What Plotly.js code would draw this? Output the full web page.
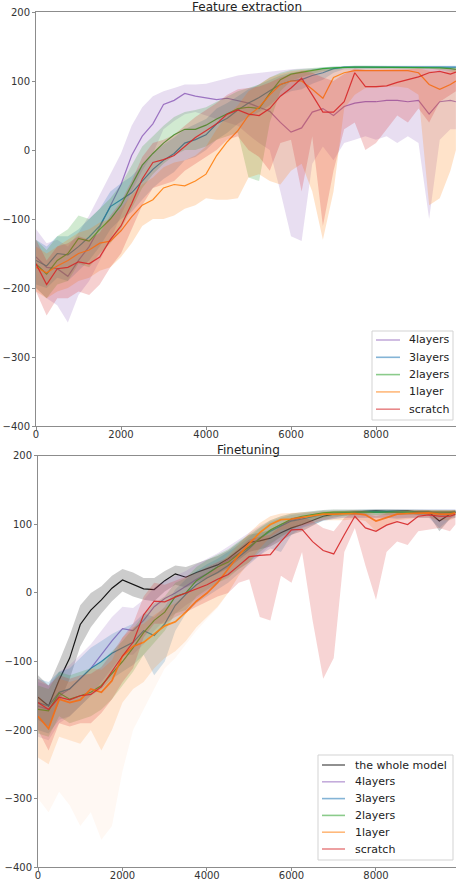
<!DOCTYPE html>
<html><head><meta charset="utf-8">
<script src="https://cdn.plot.ly/plotly-3.0.1.min.js"></script>
<style>html,body{margin:0;padding:0;background:#fff}#chart{width:456px;height:884px}</style>
</head><body><div id="chart"></div>
<script>
// training steps (x grid)
const steps = [0,250,500,750,1000,1250,1500,1750,2000,2250,2500,2750,3000,3250,3500,3750,4000,4250,4500,4750,5000,5250,5500,5750,6000,6250,6500,6750,7000,7250,7500,7750,8000,8250,8500,8750,9000,9250,9500,9750,9880];
const xTicks = [0,2000,4000,6000,8000];
const yTicks = [-400,-300,-200,-100,0,100,200];

// ---------- Feature extraction ----------
const fe4Mean  = [-155,-170,-172,-183,-160,-140,-112,-80,-50,-8,20,38,66,72,82,78,75,73,75,72,68,62,56,40,26,32,55,60,50,63,68,70,70,72,72,70,72,52,70,72,70];
const fe4Upper = [-115,-135,-130,-140,-120,-95,-65,-35,-5,35,62,78,85,90,95,95,96,100,104,108,110,112,113,115,117,118,118,118,118,118,118,119,119,119,119,119,119,118,118,118,118];
const fe4Lower = [-200,-215,-225,-250,-210,-190,-160,-130,-95,-60,-30,-5,30,42,52,55,50,45,40,35,22,10,0,-60,-125,-132,-20,5,-15,10,15,20,15,20,10,20,10,-100,15,30,30];

const fe3Mean  = [-160,-168,-150,-152,-140,-126,-110,-82,-72,-62,-45,-28,-15,-5,10,15,22,38,46,58,68,76,86,95,100,102,108,112,118,120,120,120,120,120,120,120,120,120,120,120,120];
const fe3Upper = [-130,-140,-125,-125,-115,-100,-85,-60,-48,-38,-22,-5,8,18,30,38,45,60,68,78,88,95,102,108,112,115,118,120,121,122,122,122,122,122,122,122,122,122,122,122,122];
const fe3Lower = [-195,-200,-185,-190,-175,-160,-140,-115,-100,-90,-72,-55,-42,-32,-15,-10,0,15,25,38,48,55,65,78,85,88,96,102,112,117,118,118,118,118,118,118,118,118,118,118,118];

const fe2Mean  = [-165,-180,-160,-150,-128,-132,-115,-100,-80,-50,-22,-5,10,22,30,30,36,45,52,60,62,60,82,102,110,113,116,118,119,120,120,120,120,120,120,120,120,120,119,118,117];
const fe2Upper = [-130,-145,-125,-115,-95,-100,-85,-70,-50,-22,5,20,35,48,55,58,62,70,78,85,90,95,105,112,116,118,119,120,121,122,122,122,122,122,122,122,122,122,121,120,120];
const fe2Lower = [-200,-215,-195,-190,-165,-170,-150,-135,-115,-85,-55,-35,-20,-8,0,0,5,15,20,25,-40,-45,40,85,100,106,110,114,116,118,118,118,118,118,118,118,118,118,116,114,113];

const fe1Mean  = [-170,-178,-168,-160,-150,-145,-135,-132,-117,-97,-80,-72,-55,-50,-52,-45,-35,-8,12,28,50,62,80,95,100,100,88,75,105,112,115,115,115,115,115,115,112,95,88,95,100];
const fe1Upper = [-140,-150,-140,-130,-120,-115,-105,-100,-85,-65,-50,-40,-25,-18,-15,-8,5,30,50,65,85,95,105,110,114,116,116,116,117,118,118,118,118,118,118,118,118,115,112,115,116];
const fe1Lower = [-205,-215,-205,-200,-190,-185,-175,-170,-155,-135,-110,-100,-100,-95,-85,-80,-70,-72,-72,-70,-40,-35,-45,-50,-30,-20,-60,-130,-60,60,80,90,90,92,92,90,80,-80,-70,-30,0];

const fesMean  = [-165,-195,-172,-170,-162,-165,-155,-130,-110,-78,-42,-18,-14,-8,5,18,28,38,52,58,52,50,60,78,90,104,80,55,55,70,112,92,92,93,98,102,106,112,114,110,113];
const fesUpper = [-130,-160,-140,-135,-125,-130,-120,-95,-75,-45,-10,10,15,22,35,48,58,68,80,88,90,92,98,105,110,114,112,105,100,110,118,116,116,116,117,117,118,118,118,118,118];
const fesLower = [-205,-240,-215,-215,-205,-210,-195,-170,-150,-115,-80,-55,-50,-45,-30,-20,-10,0,15,20,0,-10,-30,10,15,-60,20,-110,-30,30,40,0,10,30,50,40,60,40,70,80,85];

// ---------- Finetuning ----------
const ft0Mean  = [-152,-165,-127,-95,-46,-25,-10,7,19,12,6,5,18,28,23,30,36,41,50,62,74,76,80,88,95,100,106,112,115,117,118,119,120,119,120,120,118,118,105,115,118];
const ft0Upper = [-120,-135,-100,-62,-18,0,10,25,35,30,22,22,32,40,38,43,48,54,62,74,85,88,92,98,104,108,113,117,119,120,121,122,122,122,122,122,121,121,115,119,121];
const ft0Lower = [-185,-195,-160,-125,-78,-50,-30,-12,2,-5,-10,-12,2,12,8,15,22,28,36,48,60,64,68,76,85,90,98,106,110,113,115,116,117,116,117,117,114,114,90,108,114];

const ft4Mean  = [-165,-170,-150,-140,-125,-110,-90,-70,-52,-55,-40,-20,-8,0,10,20,28,38,48,58,68,80,92,100,106,110,114,116,117,118,118,118,118,118,118,118,118,118,118,118,118];
const ft4Upper = [-130,-135,-115,-105,-90,-75,-55,-35,-20,-22,-10,8,18,25,32,42,50,58,68,78,88,98,106,112,116,118,120,121,122,122,122,122,122,122,122,122,122,122,122,122,122];
const ft4Lower = [-210,-215,-190,-180,-165,-150,-130,-110,-90,-90,-75,-55,-40,-30,-18,-8,2,15,25,35,45,55,70,82,90,96,102,106,108,110,110,110,110,110,110,110,110,110,110,110,110];

const ft3Mean  = [-160,-165,-145,-140,-125,-110,-100,-88,-80,-72,-55,-62,-45,-18,-2,12,22,30,40,52,65,80,90,98,105,108,112,115,116,117,118,118,118,118,118,118,118,118,116,118,118];
const ft3Upper = [-125,-130,-115,-110,-95,-80,-70,-60,-52,-45,-30,-35,-20,5,20,32,42,50,60,70,82,95,104,110,114,116,118,120,120,121,122,122,122,122,122,122,122,122,121,122,122];
const ft3Lower = [-200,-205,-185,-180,-165,-150,-140,-125,-115,-105,-90,-120,-100,-55,-30,-15,-5,5,15,28,42,55,65,60,85,95,100,105,108,110,110,110,110,110,108,110,110,110,95,108,110];

const ft2Mean  = [-170,-172,-146,-155,-150,-145,-135,-117,-100,-80,-58,-40,-28,-5,0,18,28,38,45,57,67,80,92,100,108,112,115,117,118,118,119,119,119,119,119,119,119,119,119,118,118];
const ft2Upper = [-135,-140,-115,-120,-115,-110,-100,-85,-70,-52,-32,-15,-5,15,22,38,48,56,64,75,85,96,106,112,116,118,120,121,122,122,122,122,122,122,122,122,122,122,122,121,121];
const ft2Lower = [-205,-210,-180,-190,-185,-180,-170,-155,-135,-115,-90,-72,-55,-30,-25,-5,5,15,22,35,45,60,72,82,92,100,106,110,112,112,114,114,114,114,114,114,114,114,112,112,112];

const ft1Mean  = [-180,-198,-155,-160,-156,-140,-145,-128,-92,-78,-72,-60,-48,-42,-28,-12,0,15,35,55,72,88,100,107,108,110,113,115,115,115,116,114,105,110,115,116,117,117,115,115,117];
const ft1Upper = [-150,-165,-125,-130,-125,-110,-112,-98,-65,-50,-45,-32,-22,-15,-2,12,25,38,55,72,88,102,112,116,117,118,119,120,120,120,121,120,116,118,120,121,121,121,120,120,121];
const ft1Lower = [-240,-250,-210,-215,-220,-200,-230,-200,-160,-140,-130,-110,-95,-85,-70,-50,-35,-20,0,25,45,65,82,92,95,98,102,106,106,106,108,105,90,98,106,108,110,110,106,106,110];
const ft1Spikes = [-300,-320,-290,-310,-340,-320,-360,-340,-260,-200,-170,-140,-110,-95,-75,-55,-38,-22,0,25,45,65,82,92,95,98,102,106,106,106,108,105,90,98,106,108,110,110,106,106,110];

const ftsMean  = [-160,-170,-152,-156,-150,-148,-137,-115,-92,-72,-32,-12,-13,-6,0,5,12,20,27,40,53,55,56,75,92,93,75,62,57,85,112,95,90,99,104,100,112,114,112,112,115];
const ftsUpper = [-125,-135,-120,-125,-120,-118,-108,-88,-65,-45,-5,15,12,18,25,30,38,45,52,65,78,82,85,98,110,112,105,95,90,110,118,116,112,116,118,116,120,120,120,120,120];
const ftsLower = [-200,-230,-190,-195,-190,-190,-175,-155,-130,-110,-65,-45,-45,-35,-28,-20,-12,-5,0,15,20,-35,-40,25,15,60,-40,-125,-95,60,95,40,-10,60,75,70,90,92,95,90,100];

const COL = {
  purple:[148,103,189], blue:[31,119,180], green:[44,160,44],
  orange:[255,127,14], red:[214,39,40], black:[0,0,0]
};
const rgba = (c,a) => `rgba(${c[0]},${c[1]},${c[2]},${a})`;

const traces = [];
function band(lower, upper, col, a, xa, ya){
  traces.push({
    x: steps.concat(steps.slice().reverse()),
    y: upper.concat(lower.slice().reverse()),
    xaxis: xa, yaxis: ya, mode:'lines', line:{width:0},
    fill:'toself', fillcolor: rgba(col,a), hoverinfo:'skip', showlegend:false
  });
}
function line(mean, col, name, xa, ya, w){
  traces.push({
    x: steps, y: mean, xaxis: xa, yaxis: ya, mode:'lines', name: name,
    line:{color: rgba(col,0.9), width: w || 1.2}, showlegend:false
  });
}

const topSeries = [
  ['4layers', fe4Mean, fe4Lower, fe4Upper, COL.purple, 1.2],
  ['3layers', fe3Mean, fe3Lower, fe3Upper, COL.blue, 1.2],
  ['2layers', fe2Mean, fe2Lower, fe2Upper, COL.green, 1.2],
  ['1layer',  fe1Mean, fe1Lower, fe1Upper, COL.orange, 1.2],
  ['scratch', fesMean, fesLower, fesUpper, COL.red, 1.2]
];
topSeries.forEach(s => { band(s[2], s[3], s[4], 0.22, 'x', 'y'); line(s[1], s[4], s[0], 'x', 'y', s[5]); });

band(ft1Spikes, ft1Lower, COL.orange, 0.05, 'x2', 'y2');
const botSeries = [
  ['the whole model', ft0Mean, ft0Lower, ft0Upper, COL.black, 1.2],
  ['4layers', ft4Mean, ft4Lower, ft4Upper, COL.purple, 1.2],
  ['3layers', ft3Mean, ft3Lower, ft3Upper, COL.blue, 1.2],
  ['2layers', ft2Mean, ft2Lower, ft2Upper, COL.green, 1.2],
  ['1layer',  ft1Mean, ft1Lower, ft1Upper, COL.orange, 1.7],
  ['scratch', ftsMean, ftsLower, ftsUpper, COL.red, 1.2]
];
botSeries.forEach(s => { band(s[2], s[3], s[4], 0.2, 'x2', 'y2'); line(s[1], s[4], s[0], 'x2', 'y2', s[5]); });

const FONT = 'DejaVu Sans, sans-serif';

// ---- hand-built legends (matplotlib style), pixel -> paper helpers ----
const W = 456, H = 884, ML = 36;
const px = p => (p - ML) / (W - ML);
const py = p => 1 - p / H;
const shapes = [], annotations = [];
function legendBox(series, box, rowY0, rowStep, lineX0, lineX1, textX){
  shapes.push({type:'rect', xref:'paper', yref:'paper', x0:px(box[0]), x1:px(box[1]), y0:py(box[3]), y1:py(box[2]),
    line:{color:'#d3d3d3', width:1}, fillcolor:'rgba(255,255,255,0.85)', layer:'above'});
  series.forEach((s, i) => {
    const yy = py(rowY0 + i * rowStep);
    shapes.push({type:'line', xref:'paper', yref:'paper', x0:px(lineX0), x1:px(lineX1), y0:yy, y1:yy,
      line:{color:rgba(s[4],0.55), width:1.6}, layer:'above'});
    annotations.push({text:s[0], xref:'paper', yref:'paper', x:px(textX), y:yy, xanchor:'left', yanchor:'middle',
      showarrow:false, font:{family:FONT, size:11, color:'#222'}});
  });
}
legendBox(topSeries, [372, 453, 331, 420], 340, 17.3, 376, 400, 407);
legendBox(botSeries, [318, 453, 755, 860], 765, 16.8, 322, 345, 353);

annotations.push(
  {text:'Feature extraction', xref:'paper', yref:'paper', x:0.502, y:0.9864, xanchor:'center', yanchor:'bottom', yshift:-4, showarrow:false, font:{family:FONT, size:12, color:'#222'}},
  {text:'Finetuning', xref:'paper', yref:'paper', x:0.505, y:0.4842, xanchor:'center', yanchor:'bottom', yshift:-3, showarrow:false, font:{family:FONT, size:12, color:'#222'}}
);

const axisBase = {
  showline:true, linecolor:'#8c8c8c', linewidth:1, ticks:'outside', ticklen:3,
  tickcolor:'#8c8c8c', showgrid:false, zeroline:false,
  tickfont:{family:FONT, size:10, color:'#333'}
};
const xBase = Object.assign({}, axisBase, {ticklabelstandoff:-4, tickvals:xTicks, mirror:true});

const layout = {
  width:W, height:H, autosize:false,
  margin:{l:ML, r:0, t:0, b:0},
  paper_bgcolor:'#fff', plot_bgcolor:'#fff',
  font:{family:FONT},
  xaxis: Object.assign({}, xBase, {domain:[0,1], range:[0,9882], anchor:'y'}),
  yaxis: Object.assign({}, axisBase, {domain:[0.5181,0.9864], range:[-400,200], anchor:'x', tickvals:yTicks}),
  xaxis2: Object.assign({}, xBase, {domain:[0.0048,1], range:[0,9894], anchor:'y2'}),
  yaxis2: Object.assign({}, axisBase, {domain:[0.0192,0.4842], range:[-400,200], anchor:'x2', tickvals:yTicks}),
  shapes: shapes,
  annotations: annotations,
  showlegend:false
};

Plotly.newPlot('chart', traces, layout, {displayModeBar:false, staticPlot:true});
</script>
</body></html>
